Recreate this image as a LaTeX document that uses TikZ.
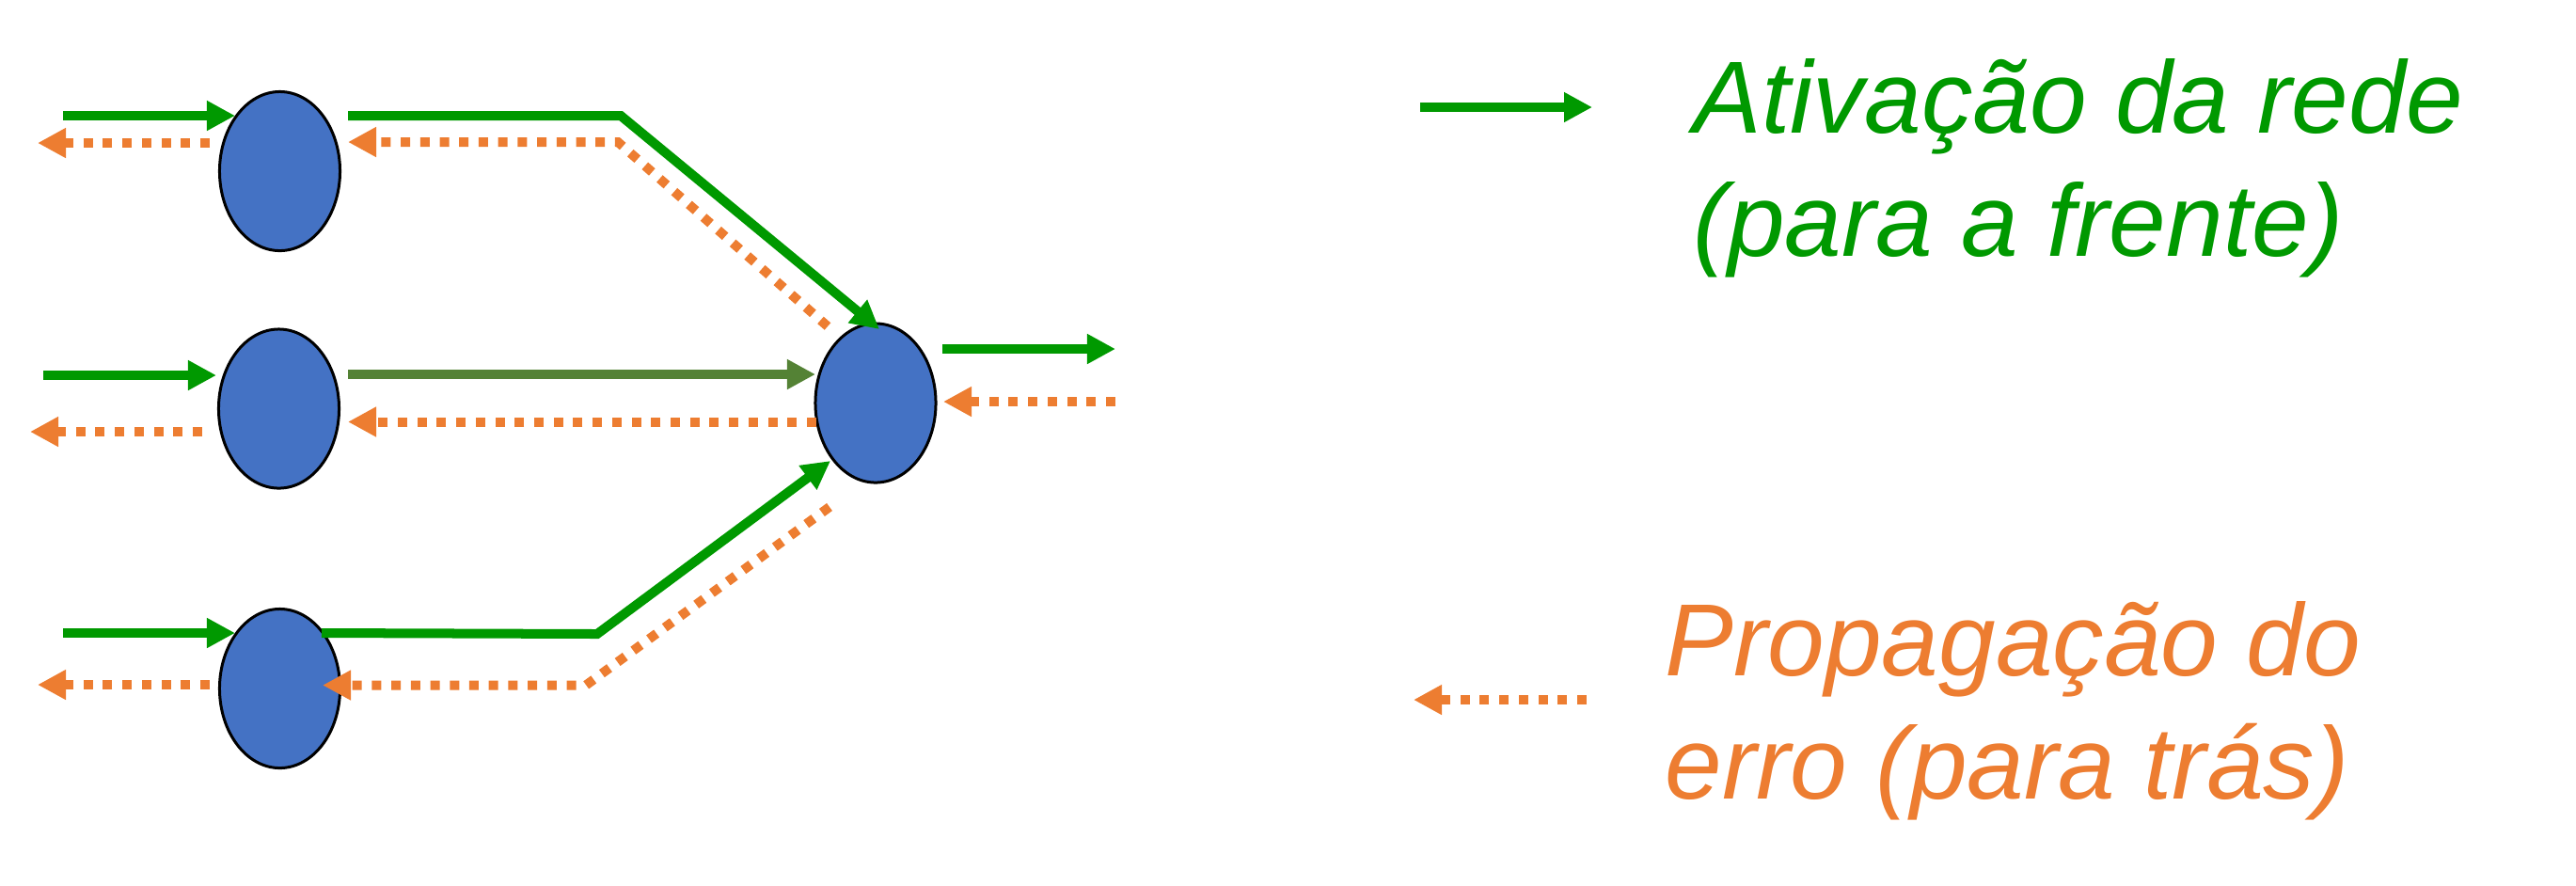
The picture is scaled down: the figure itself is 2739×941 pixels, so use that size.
\documentclass[tikz,border=0pt]{standalone}
\usepackage{fontspec}
\setmainfont{Liberation Sans}
\usetikzlibrary{arrows.meta,shapes.geometric}

\definecolor{fwdgreen}{HTML}{009900}
\definecolor{midgreen}{HTML}{548235}
\definecolor{errorange}{HTML}{ED7D31}
\definecolor{cellblue}{HTML}{4472C4}

\tikzset{
    neuron/.style={ellipse,draw=black,line width=0.03cm,fill=cellblue,
        minimum width=1.28cm,minimum height=1.69cm,inner sep=0pt},
    fwd/.style={->,fwdgreen,line width=0.1cm},
    back/.style={->,errorange,line width=0.1cm,dash pattern=on 0.1cm off 0.107cm},
    legendtext/.style={font=\fontsize{31}{37.2}\selectfont\itshape,
        align=left,anchor=base west,inner sep=0pt}
}

\begin{document}
\begin{tikzpicture}[line join=miter,>={Triangle[length=0.3cm,width=0.3cm]},x=0.01cm,y=-0.01cm]
        \useasboundingbox (0,0) rectangle (2739,941);
        % neurons
        \node[neuron] (h1) at (297.5,182) {};
        \node[neuron] (h2) at (296.5,434.5) {};
        \node[neuron] (h3) at (297.5,732) {};
        \node[neuron] (out) at (931,428.5) {};
        % end points of the connectors
        \coordinate (in1) at (67,123);    \coordinate (in1t) at (250,123);
        \coordinate (er1) at (223,152);   \coordinate (er1t) at (40,152);
        \coordinate (in2) at (46,399);    \coordinate (in2t) at (230,399);
        \coordinate (er2) at (215,459);   \coordinate (er2t) at (32,459);
        \coordinate (in3) at (67,673);    \coordinate (in3t) at (250,673);
        \coordinate (er3) at (223,728);   \coordinate (er3t) at (40,728);
        \coordinate (h1a) at (370,123);   \coordinate (h1k) at (660,123);   \coordinate (o1t) at (935,350);
        \coordinate (o1b) at (880,347);   \coordinate (h1j) at (657,151);   \coordinate (h1bt) at (370,151);
        \coordinate (h2a) at (370,398);   \coordinate (o2t) at (867,398);
        \coordinate (o2b) at (868,448.5); \coordinate (h2bt) at (370,448.5);
        \coordinate (h3a) at (342,673);   \coordinate (h3k) at (635,674);   \coordinate (o3t) at (883,490);
        \coordinate (o3b) at (882,539);   \coordinate (h3j) at (623,728.5); \coordinate (h3bt) at (343,728.5);
        \coordinate (outa) at (1002,371); \coordinate (outat) at (1186,371);
        \coordinate (outb) at (1186,427); \coordinate (outbt) at (1003,427);
        % forward pass
        \draw[fwd] (in1) -- (in1t);
        \draw[fwd] (in2) -- (in2t);
        \draw[fwd] (in3) -- (in3t);
        \draw[fwd] (h1a) -- (h1k) -- (o1t);
        \draw[fwd,midgreen] (h2a) -- (o2t);
        \draw[fwd] (h3a) -- (h3k) -- (o3t);
        \draw[fwd] (outa) -- (outat);
        % backward pass
        \draw[back] (er1) -- (er1t);
        \draw[back] (er2) -- (er2t);
        \draw[back] (er3) -- (er3t);
        \draw[back] (o1b) -- (h1j) -- (h1bt);
        \draw[back] (o2b) -- (h2bt);
        \draw[back] (o3b) -- (h3j) -- (h3bt);
        \draw[back] (outb) -- (outbt);
        % legend (base is the baseline of the last line)
        \coordinate (lf) at (1510,114);   \coordinate (lft) at (1693,114);
        \coordinate (lb) at (1687,744);   \coordinate (lbt) at (1503,744);
        \draw[fwd] (lf) -- (lft);
        \draw[back] (lb) -- (lbt);
        \node[legendtext,fwdgreen] (fwdlabel) at (1800,272) {Ativação da rede\\(para a frente)};
        \node[legendtext,errorange] (backlabel) at (1770,849) {Propagação do\\erro (para trás)};
    \end{tikzpicture}
\end{document}
